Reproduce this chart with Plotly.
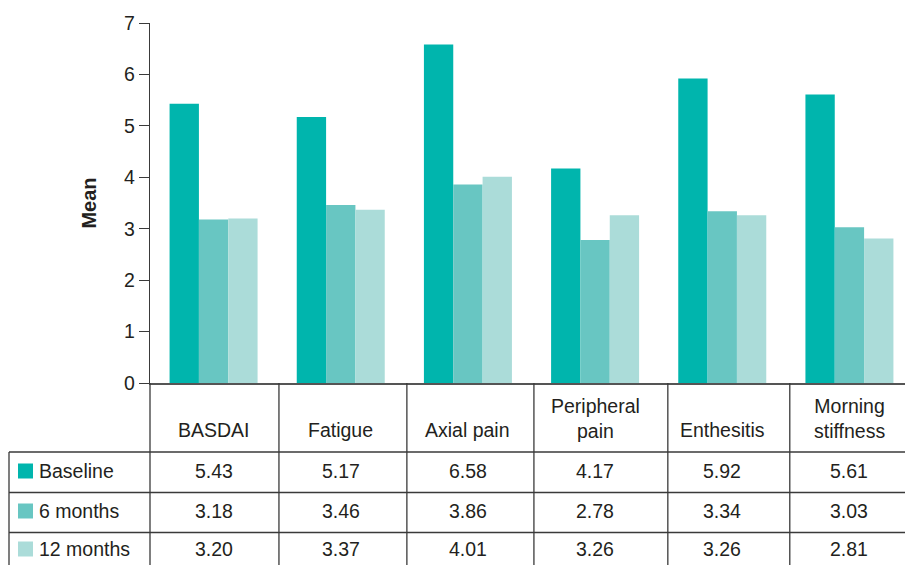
import plotly.graph_objects as go

categories = ["BASDAI", "Fatigue", "Axial pain", "Peripheral pain", "Enthesitis", "Morning stiffness"]
header_labels = ["BASDAI", "Fatigue", "Axial pain", "Peripheral<br>pain", "Enthesitis", "Morning<br>stiffness"]
series_names = ["Baseline", "6 months", "12 months"]
baseline = [5.43, 5.17, 6.58, 4.17, 5.92, 5.61]
m6 = [3.18, 3.46, 3.86, 2.78, 3.34, 3.03]
m12 = [3.20, 3.37, 4.01, 3.26, 3.26, 2.81]
colors = ["#00B5AD", "#68C6C2", "#ABDCD9"]
y_ticks = [0, 1, 2, 3, 4, 5, 6, 7]

W, H = 905, 565
L, T, B = 150, 23, 182
PH = H - T - B
PW = W - L
FONT = "Liberation Sans, Arial, Helvetica, sans-serif"
LINE = "#3a3a3a"
TXT = "#231f20"
FS = 19.5
# table column separators (x-axis units, slightly irregular as in the source)
col_edges = [0.514, 1.52, 2.519, 3.572, 4.531]

def py(p):
    # pixel y -> paper y
    return (H - B - p) / PH

def px(p):
    return (p - L) / PW

fig = go.Figure()
series = [baseline, m6, m12]
for name, vals, c in zip(series_names, series, colors):
    fig.add_trace(go.Bar(x=list(range(len(categories))), y=vals, name=name,
                         marker=dict(color=c, line=dict(width=0)),
                         hovertext=categories))

shapes = []
ann = []
# table horizontal lines
for yp, x0 in [(452, 9), (492.5, 9), (532.5, 9)]:
    shapes.append(dict(type="line", xref="paper", yref="paper",
                       x0=px(x0), x1=1, y0=py(yp), y1=py(yp),
                       line=dict(color=LINE, width=1.3)))
# left border of row labels
shapes.append(dict(type="line", xref="paper", yref="paper",
                   x0=px(9), x1=px(9), y0=py(452), y1=py(H + 2),
                   line=dict(color=LINE, width=1.3)))
# continuation of axis line through table
shapes.append(dict(type="line", xref="paper", yref="paper",
                   x0=0, x1=0, y0=py(383), y1=py(H + 2),
                   line=dict(color=LINE, width=1.3)))
# column separators
for e in col_edges:
    shapes.append(dict(type="line", xref="x", yref="paper",
                       x0=e, x1=e, y0=py(383), y1=py(H + 2),
                       line=dict(color=LINE, width=1.3)))

# header labels
for i, lab in enumerate(header_labels):
    yp = 430 if "<br>" not in lab else 418
    ann.append(dict(x=i, y=py(yp), xref="x", yref="paper", text=lab,
                    showarrow=False, xanchor="center", yanchor="middle",
                    font=dict(family=FONT, size=FS, color=TXT)))

row_y = [471, 511, 549]
for r, (name, vals, c) in enumerate(zip(series_names, series, colors)):
    yc = row_y[r]
    shapes.append(dict(type="rect", xref="paper", yref="paper",
                       x0=px(18), x1=px(33), y0=py(yc + 7.5), y1=py(yc - 7.5),
                       fillcolor=c, line=dict(width=0)))
    ann.append(dict(x=px(37), y=py(yc), xref="paper", yref="paper", text=name,
                    showarrow=False, xanchor="left", yanchor="middle",
                    font=dict(family=FONT, size=FS, color=TXT)))
    for i, v in enumerate(vals):
        ann.append(dict(x=i, y=py(yc), xref="x", yref="paper", text=f"{v:.2f}",
                        showarrow=False, xanchor="center", yanchor="middle",
                        font=dict(family=FONT, size=FS, color=TXT)))

fig.update_layout(
    width=W, height=H,
    margin=dict(l=L, r=0, t=T, b=B, pad=0, autoexpand=False),
    paper_bgcolor="white", plot_bgcolor="white",
    barmode="group", bargap=0.308, bargroupgap=0,
    showlegend=False,
    shapes=shapes, annotations=ann,
    font=dict(family=FONT, size=FS, color=TXT),
    xaxis=dict(range=[-0.5, 5.437], showticklabels=False, ticks="",
               showgrid=False, zeroline=False, showline=True, automargin=False,
               linecolor="#555", linewidth=2, fixedrange=True),
    yaxis=dict(range=[0, 7], tickvals=y_ticks, ticks="outside", ticklen=10,
               tickcolor=LINE, tickwidth=1.3, showgrid=False, zeroline=False,
               showline=True, linecolor=LINE, linewidth=1.3, automargin=False,
               tickfont=dict(family=FONT, size=FS, color=TXT),
               title=dict(text="<b>Mean</b>", standoff=22,
                          font=dict(family=FONT, size=20, color=TXT))),
)

fig.write_html("out.html", config={"displayModeBar": False},
               post_script=["document.body.style.margin='0';document.body.style.overflow='hidden';"])
